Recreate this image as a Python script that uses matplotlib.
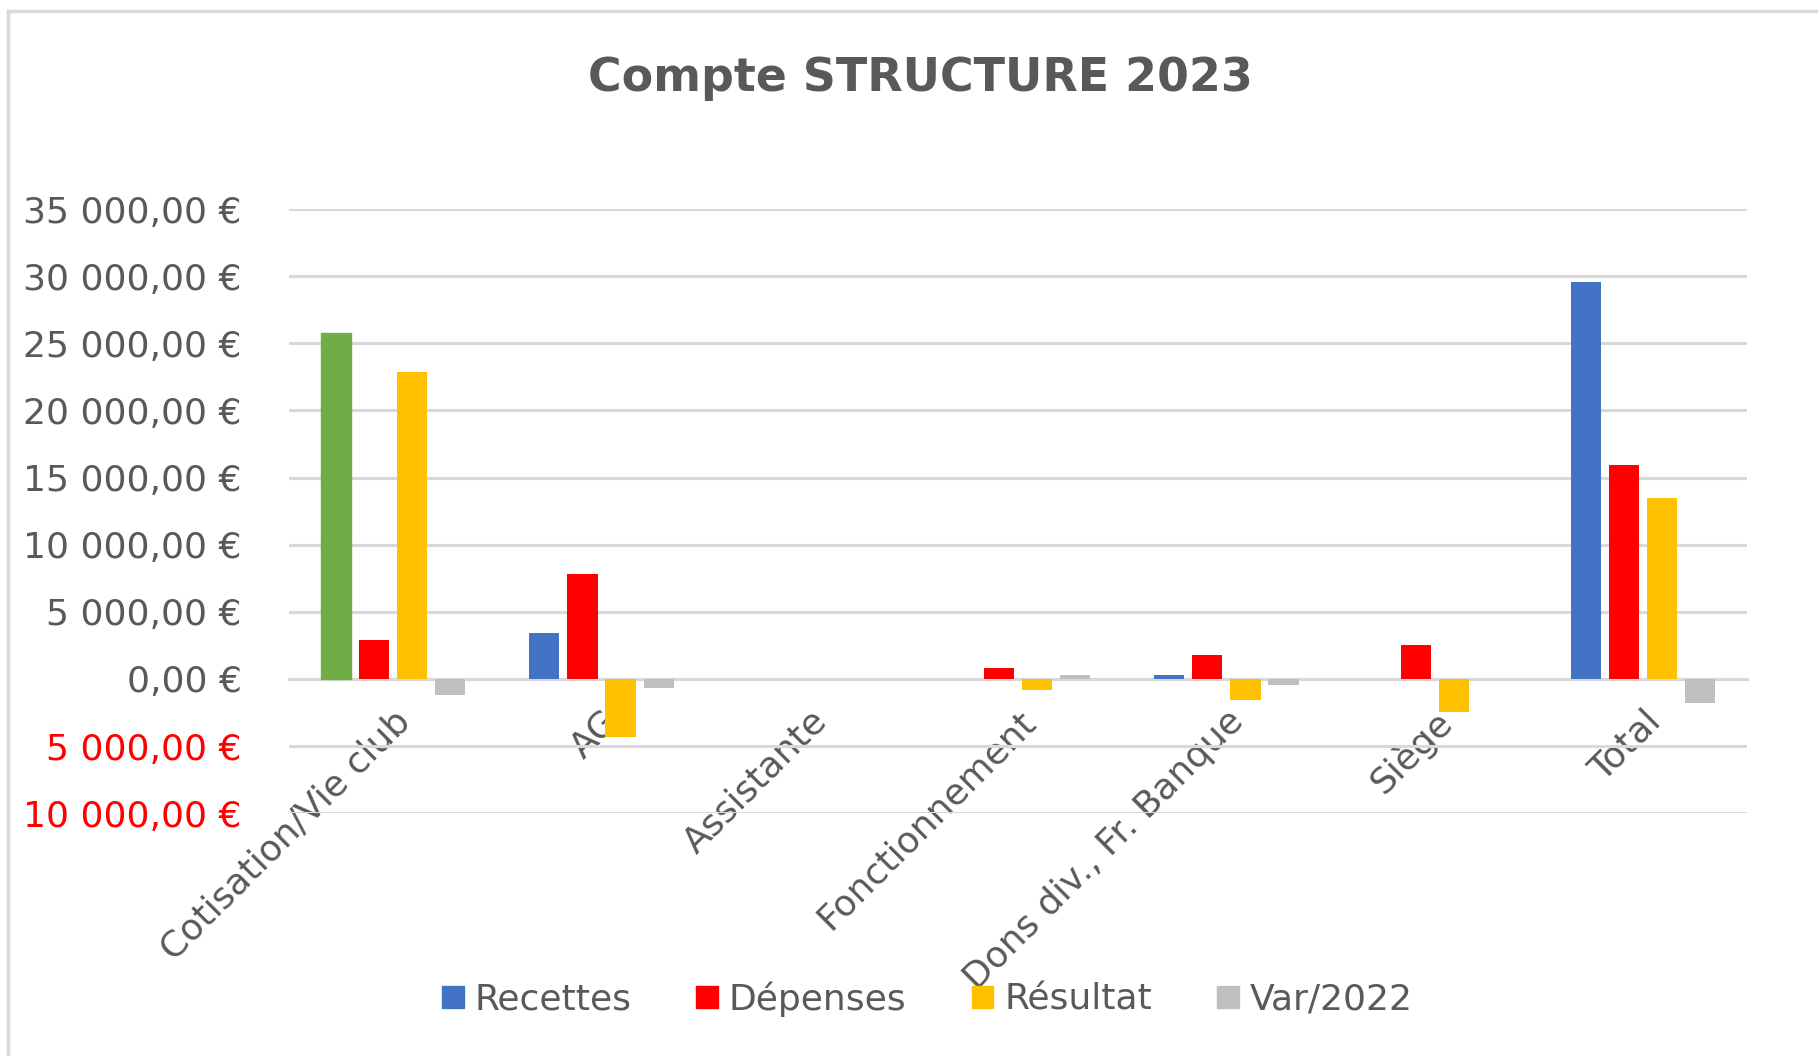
import matplotlib.pyplot as plt
import numpy as np
from matplotlib.lines import Line2D
from matplotlib.patches import Patch
from matplotlib.ticker import FuncFormatter

plt.rcParams['font.family'] = ['DejaVu Sans']

# values
categories = ['Cotisation/Vie club', 'AG', 'Assistante', 'Fonctionnement',
              'Dons div., Fr. Banque', 'Siège', 'Total']
recettes = [25800, 3400, 0, 0, 300, 0, 29600]
depenses = [2900, 7850, 0, 800, 1800, 2500, 15900]
resultat = [22900, -4300, 0, -800, -1600, -2450, 13500]
var_2022 = [-1200, -650, 0, 300, -450, 0, -1800]

series = ['Recettes', 'Dépenses', 'Résultat', 'Var/2022']
colors = ['#4472C4', '#FF0000', '#FFC000', '#BFBFBF']
text_grey = '#595959'

fig = plt.figure(figsize=(18.18, 10.56), dpi=100)
ax = fig.add_axes([0.159, 0.230, 0.802, 0.572])

x = np.arange(len(categories))
step = 0.183
width = 0.145
for i, (vals, col) in enumerate(zip([recettes, depenses, resultat, var_2022], colors)):
    bars = ax.bar(x + (i - 1.5) * step, vals, width, color=col, zorder=3)
    if i == 0:
        # first point of Recettes is coloured green in the original
        bars[0].set_color('#70AD47')

ax.set_xlim(-0.5, len(categories) - 0.5)
ax.set_ylim(-10000, 35000)
ax.set_yticks(np.arange(-10000, 35001, 5000))


def euro(v, pos):
    s = f"{abs(v):,.2f}".replace(',', ' ').replace('.', ',')
    return s + ' €'


ax.yaxis.set_major_formatter(FuncFormatter(euro))
ax.tick_params(axis='y', length=0, pad=34, labelsize=26, labelcolor=text_grey)
for lab, v in zip(ax.get_yticklabels(), ax.get_yticks()):
    if v < 0:
        lab.set_color('#FF0000')

ax.grid(axis='y', color='#D9D9D9', linewidth=2.2, zorder=0)
for s in ['top', 'right', 'left']:
    ax.spines[s].set_visible(False)
ax.spines['bottom'].set_position(('data', 0))
ax.spines['bottom'].set_color('#D9D9D9')
ax.spines['bottom'].set_linewidth(2.2)

ax.set_xticks(x)
ax.set_xticklabels(categories, rotation=45, ha='right', va='top',
                   rotation_mode='anchor', fontsize=26, color=text_grey)
ax.tick_params(axis='x', length=0, pad=18)

fig.text(0.506, 0.926, 'Compte STRUCTURE 2023', ha='center', va='center',
         fontsize=33, fontweight='bold', color=text_grey)

handles = [Patch(color=c) for c in colors]
fig.legend(handles, series, loc='center', bbox_to_anchor=(0.51, 0.054), ncol=4,
           frameon=False, fontsize=26, handlelength=0.6, handleheight=0.6,
           handletextpad=0.3, columnspacing=1.8, labelcolor=text_grey)

# light frame around the chart area
fig.add_artist(Line2D([8 / 1818, 1], [1 - 11 / 1056] * 2, color='#D9D9D9', lw=2.5))
fig.add_artist(Line2D([8 / 1818] * 2, [0, 1 - 11 / 1056], color='#D9D9D9', lw=2.5))

fig.savefig('out.png', dpi=100)
